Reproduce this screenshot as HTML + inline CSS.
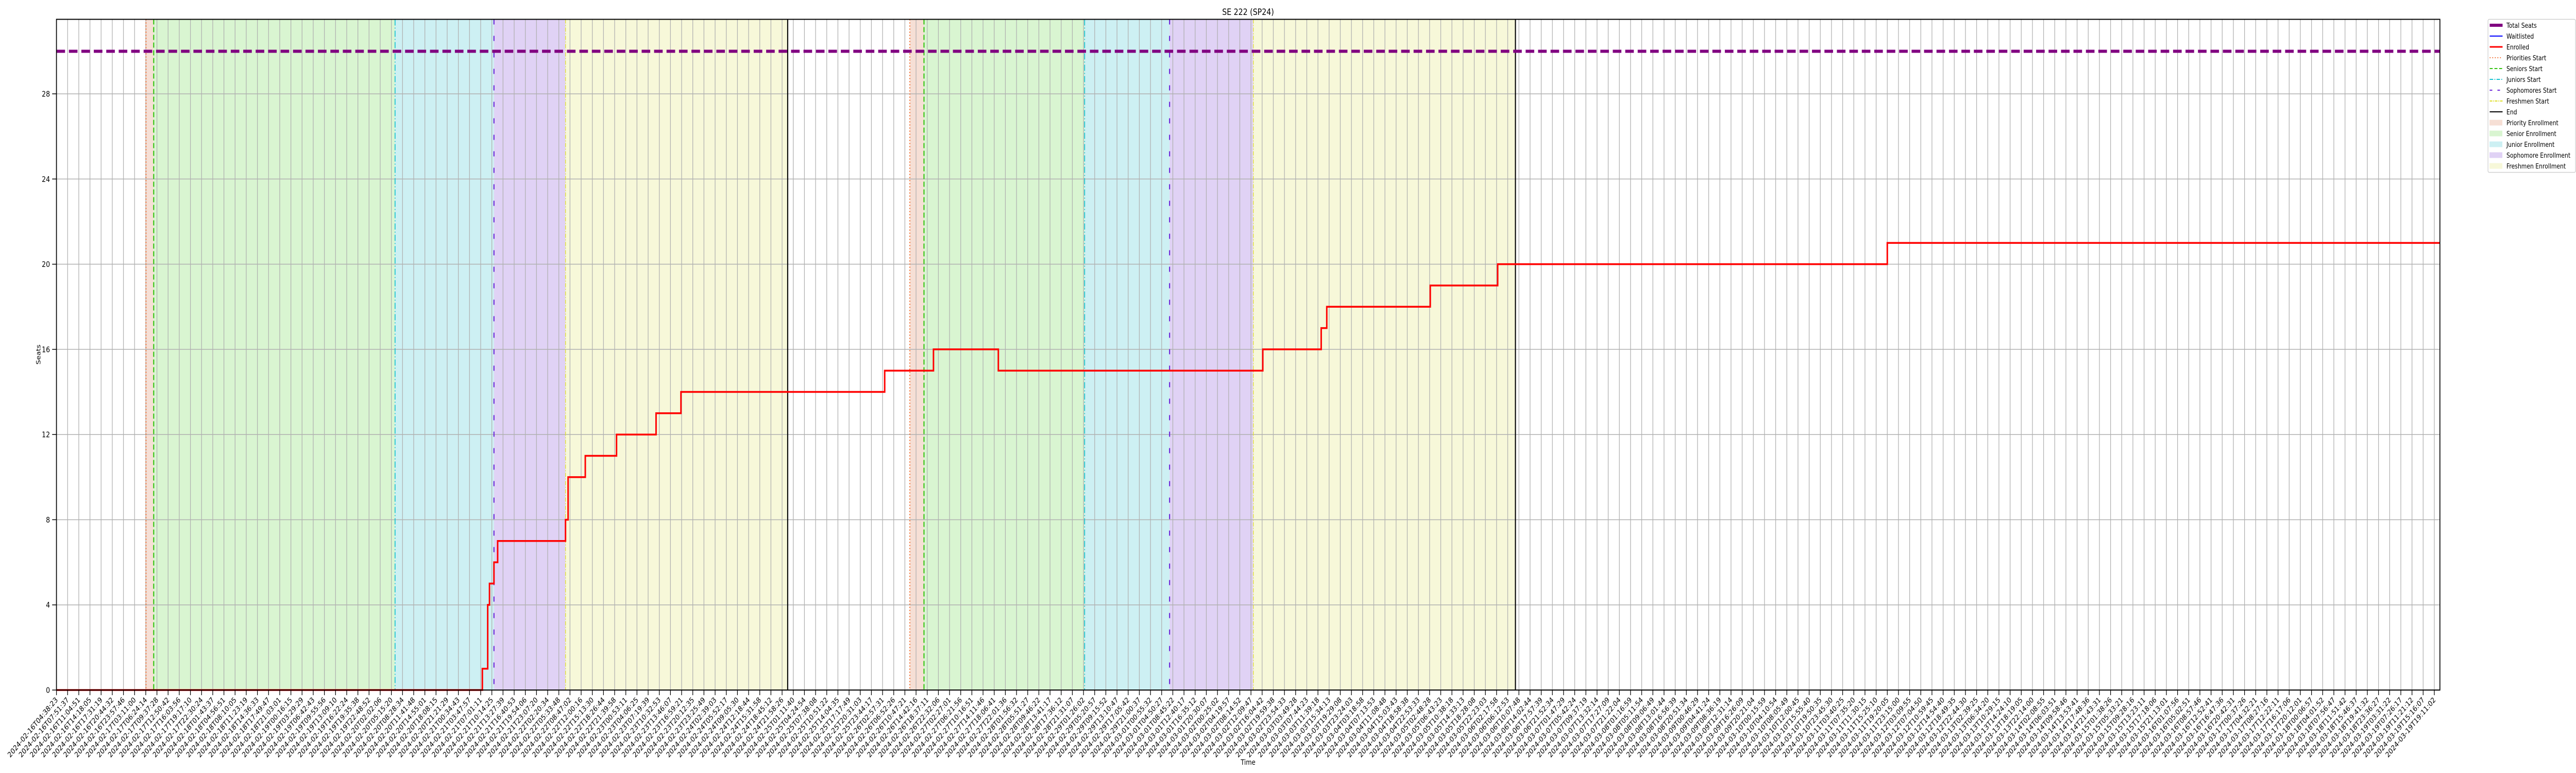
<!DOCTYPE html>
<html><head><meta charset="utf-8">
<style>
html,body{margin:0;padding:0;background:#fff;width:100%;height:100%;overflow:hidden;}
svg{display:block;width:100vw;height:100vh;font-family:"DejaVu Sans","Liberation Sans",sans-serif;}
</style></head>
<body>
<svg id="chart" viewBox="0 0 6000 1500" preserveAspectRatio="none" overflow="hidden" xmlns="http://www.w3.org/2000/svg">
<rect x="0" y="0" width="6000" height="1500" fill="#fff"/>
<g id="spans"></g><g id="grid"></g><g id="vlines"></g><g id="series"></g><g id="axes"></g><g id="legend"></g>
<text x="2907" y="29" font-size="17" text-anchor="middle">SE 222 (SP24)</text>
<text x="2907" y="1484" font-size="14" text-anchor="middle">Time</text>
<text x="0" y="0" font-size="14" text-anchor="middle" transform="translate(94,688) rotate(-90)">Seats</text>
</svg>
<script>
// ---- data (x in tick-index units, y in seats) ----
const yTicks = [0,4,8,12,16,20,24,28];
const totalSeats = 30;
const enrolledX = [0,38.15,38.63,38.79,39.19,39.52,45.6,45.83,47.37,50.17,53.71,55.94,74.19,78.56,84.37,108.06,113.29,113.79,123.06,129.1,164.0,213.5];
const enrolledY = [0,1,4,5,6,7,8,10,11,12,13,14,15,16,15,16,17,18,19,20,21,21];
const waitlistedX = [0,213.5];
const waitlistedY = [0,0];
const priorityStarts = [8.02,76.44];
const seniorStarts = [8.71,77.71];
const juniorStarts = [30.33,92.1];
const sophomoreStarts = [39.19,99.71];
const freshmenStarts = [45.6,107.21];
const endTimes = [65.5,130.69];
const labelAnchorIdx = [0,74,213];
const labelAnchorTime = ["2024-02-16T04:38:23","2024-02-26T02:57:31","2024-03-19T19:11:02"];
const tickCount = 214;

// ---- layout ----
const L=131.5,R=5683,T=37.5,B=1339,XMAX=213.5,YMAX=31.5;
const sx=v=>L+v*(R-L)/XMAX;
const sy=v=>B-v*(B-T)/YMAX;
const NS="http://www.w3.org/2000/svg";
function mk(tag,parent,attrs){const e=document.createElementNS(NS,tag);for(const k in attrs)e.setAttribute(k,attrs[k]);document.getElementById(parent).appendChild(e);return e;}

// spans
const spanDefs=[[priorityStarts,seniorStarts,"#f6dfd5","priority-enrollment-span"],[seniorStarts,juniorStarts,"#d9f5d1","senior-enrollment-span"],[juniorStarts,sophomoreStarts,"#cdf0f3","junior-enrollment-span"],[sophomoreStarts,freshmenStarts,"#e0d2f5","sophomore-enrollment-span"],[freshmenStarts,endTimes,"#f7f8d9","freshmen-enrollment-span"]];
spanDefs.forEach(d=>{for(let i=0;i<d[0].length;i++){const a=sx(d[0][i]),b=sx(d[1][i]);
 const r=mk("rect","spans",{x:a,y:T,width:b-a,height:B-T,fill:d[2]});
 
 }});

// grid
for(let i=0;i<tickCount;i++){const x=sx(i);
 const g=mk("line","grid",{x1:x,x2:x,y1:T,y2:B,stroke:"#b0b0b0","stroke-width":1.5});
 
 }
yTicks.forEach(v=>{const y=sy(v);
 const g=mk("line","grid",{x1:L,x2:R,y1:y,y2:y,stroke:"#b0b0b0","stroke-width":1.5});
 
 });

// vertical markers
const vdefs=[[priorityStarts,"#f06a2a","2.5","2 4","priorities-start-line"],[seniorStarts,"#33c410","2.5","10 5","seniors-start-line"],[juniorStarts,"#16c3d0","2","12 4 2 4","juniors-start-line"],[sophomoreStarts,"#6a22d8","2.5","10 22","sophomores-start-line"],[freshmenStarts,"#dede2a","1.5","8 3 2 3","freshmen-start-line"],[endTimes,"#000","2.5","","end-line"]];
vdefs.forEach(d=>d[0].forEach(v=>{const x=sx(v);
 const l=mk("line","vlines",{x1:x,x2:x,y1:T,y2:B,stroke:d[1],"stroke-width":d[2]});
 if(d[3])l.setAttribute("stroke-dasharray",d[3]);
 
 }));

// total seats
const ts=mk("line","series",{x1:L,x2:R,y1:sy(totalSeats),y2:sy(totalSeats),stroke:"#800080","stroke-width":6,"stroke-dasharray":"20 9"});



function stepPath(xs,ys){let d="M"+sx(xs[0])+","+sy(ys[0]);for(let i=1;i<xs.length;i++){d+=" L"+sx(xs[i])+","+sy(ys[i-1])+" L"+sx(xs[i])+","+sy(ys[i]);}return d;}
const wl=mk("path","series",{d:stepPath(waitlistedX,waitlistedY),fill:"none",stroke:"#0000ff","stroke-width":2});


const en=mk("path","series",{d:stepPath(enrolledX,enrolledY),fill:"none",stroke:"#ff0000","stroke-width":3.5,"stroke-linejoin":"miter"});



// axes frame
const fr=mk("rect","axes",{x:L,y:T,width:R-L,height:B-T,fill:"none",stroke:"#000","stroke-width":2});


yTicks.forEach(v=>{const y=sy(v);
 const t=mk("line","axes",{x1:L-10,x2:L,y1:y,y2:y,stroke:"#000","stroke-width":1.5});
 
 
 const tx=mk("text","axes",{x:L-15,y:y+5.5,"font-size":15,"text-anchor":"end"});
 tx.textContent=v;
 
 });

function fmt(ms){const d=new Date(ms);const p=n=>String(n).padStart(2,"0");return d.getUTCFullYear()+"-"+p(d.getUTCMonth()+1)+"-"+p(d.getUTCDate())+"T"+p(d.getUTCHours())+":"+p(d.getUTCMinutes())+":"+p(d.getUTCSeconds());}
const anchorMs=labelAnchorTime.map(s=>Date.parse(s+"Z"));
for(let i=0;i<tickCount;i++){
 let k=0;while(k<labelAnchorIdx.length-2&&i>labelAnchorIdx[k+1])k++;
 const f=(i-labelAnchorIdx[k])/(labelAnchorIdx[k+1]-labelAnchorIdx[k]);
 const ms=Math.round((anchorMs[k]+f*(anchorMs[k+1]-anchorMs[k]))/1000)*1000;
 const x=sx(i);
 const t=mk("line","axes",{x1:x,x2:x,y1:B,y2:B+10,stroke:"#000","stroke-width":1.5});
 
 
 const tx=mk("text","axes",{x:0,y:0,"font-size":14.5,"text-anchor":"end",transform:"translate("+(x+4)+","+(B+20)+") rotate(-45)"});
 tx.textContent=fmt(ms);
 
 }

// legend
const lb=mk("rect","legend",{x:5795,y:37.5,width:204,height:297,fill:"#fff",stroke:"#d0d0d0","stroke-width":1.5,rx:3});


const legItems=[["Total Seats","line","#800080",6,""],["Waitlisted","line","#0000ff",2,""],["Enrolled","line","#ff0000",3,""],["Priorities Start","line","#f06a2a",2,"2 4"],["Seniors Start","line","#33c410",2,"7 4"],["Juniors Start","line","#16c3d0",2,"8 3 2 3"],["Sophomores Start","line","#6a22d8",2,"6 12"],["Freshmen Start","line","#dede2a",2,"6 2 2 2"],["End","line","#000",2,""],["Priority Enrollment","patch","#f6dfd5"],["Senior Enrollment","patch","#d9f5d1"],["Junior Enrollment","patch","#cdf0f3"],["Sophomore Enrollment","patch","#e0d2f5"],["Freshmen Enrollment","patch","#f7f8d9"]];
legItems.forEach((it,i)=>{const y=49+i*21;
 let m;
 if(it[1]==="line"){m=mk("line","legend",{x1:5799,x2:5829,y1:y,y2:y,stroke:it[2],"stroke-width":it[3]});if(it[4])m.setAttribute("stroke-dasharray",it[4]);}
 else{m=mk("rect","legend",{x:5799,y:y-5,width:29,height:10,fill:it[2],stroke:it[2]});}
 
 
 const tx=mk("text","legend",{x:5838,y:y+5,"font-size":13});
 tx.textContent=it[0];
 
 });
</script>
</body></html>
